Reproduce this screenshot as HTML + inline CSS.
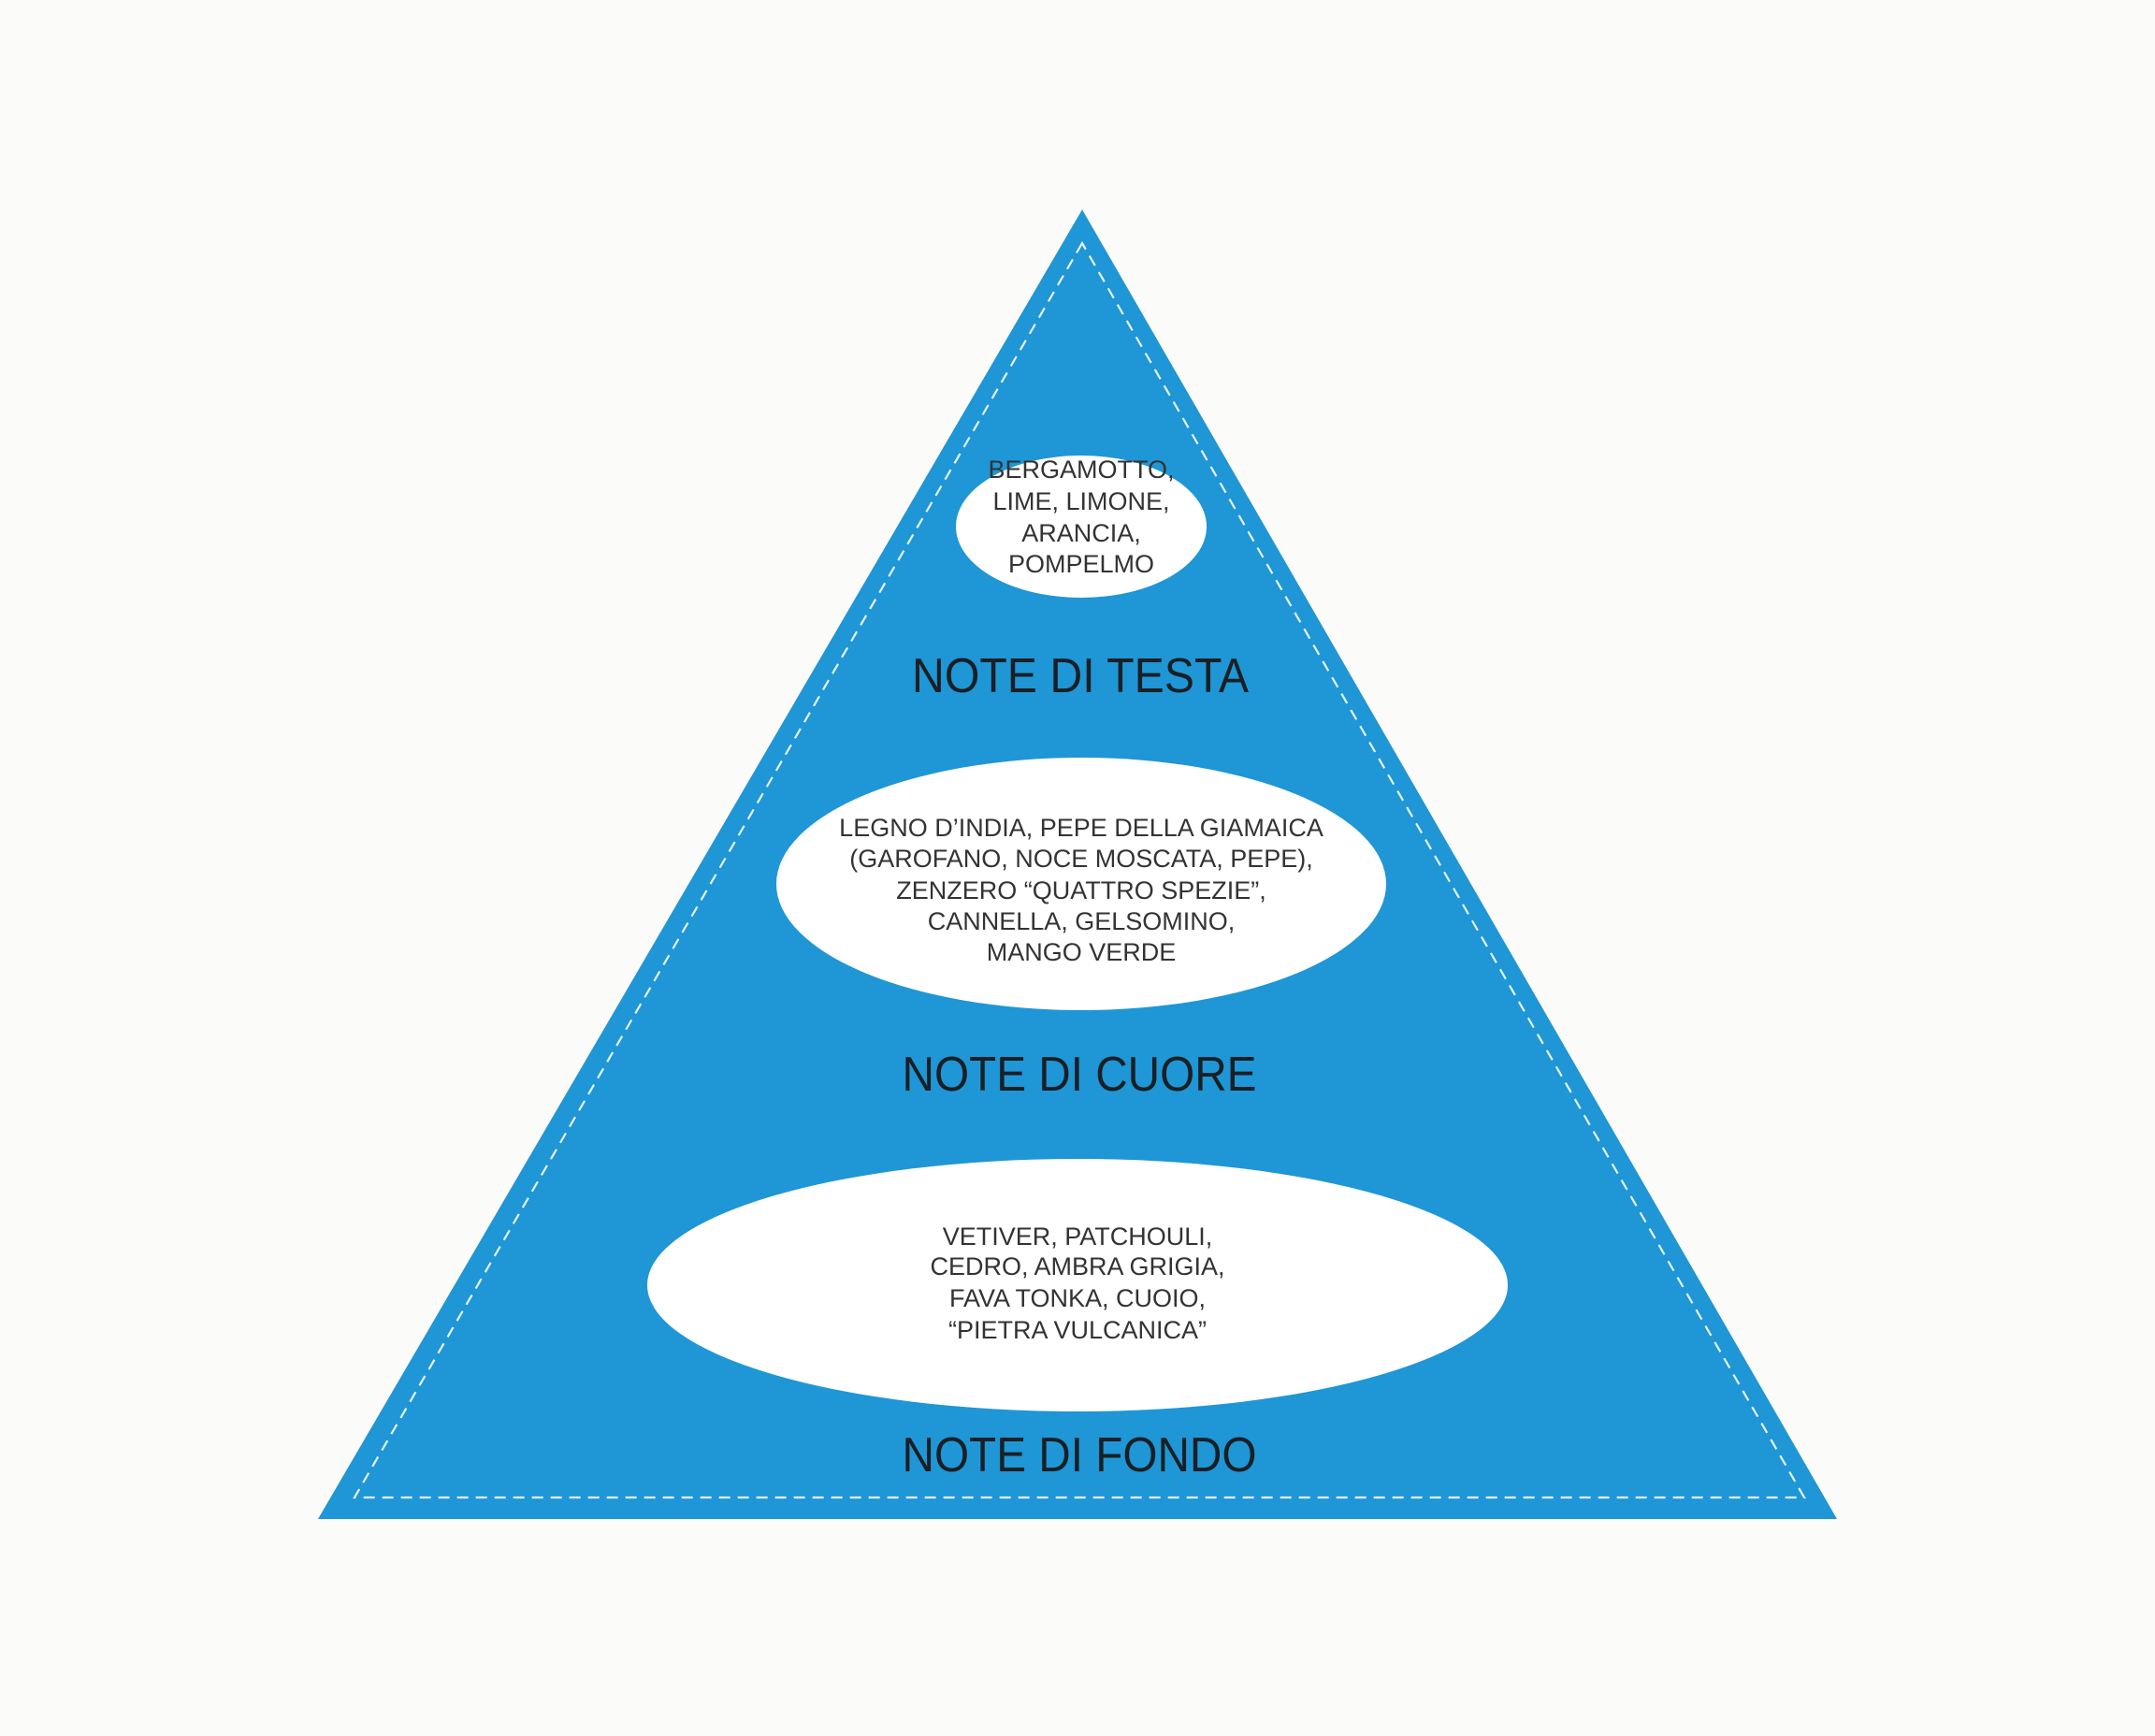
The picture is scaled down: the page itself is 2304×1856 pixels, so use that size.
<!DOCTYPE html>
<html><head><meta charset="utf-8"><style>
html,body{margin:0;padding:0;background:#fbfbf9;}
svg{display:block;}
</style></head><body>
<svg width="2304" height="1856" viewBox="0 0 2304 1856" xmlns="http://www.w3.org/2000/svg">
<rect width="2304" height="1856" fill="#fbfbf9"/>
<polygon points="1157,224 340,1624 1964,1624" fill="#1f96d5"/>
<polygon points="1157,260 379,1601 1929,1601" fill="none" stroke="#e6f3fb" stroke-width="2.2" stroke-dasharray="12,8"/>
<ellipse cx="1156" cy="563" rx="134" ry="76" fill="#fff"/>
<ellipse cx="1156" cy="945" rx="326" ry="135" fill="#fff"/>
<ellipse cx="1152" cy="1374" rx="460" ry="135" fill="#fff"/>
<g font-family="Liberation Sans, sans-serif" fill="#333" font-size="27" text-anchor="middle">
<g transform="translate(1156,0)">
<text x="0" y="511">BERGAMOTTO,</text>
<text x="0" y="545">LIME, LIMONE,</text>
<text x="0" y="579">ARANCIA,</text>
<text x="0" y="612">POMPELMO</text>
<text x="0" y="894">LEGNO D’INDIA, PEPE DELLA GIAMAICA</text>
<text x="0" y="927">(GAROFANO, NOCE MOSCATA, PEPE),</text>
<text x="0" y="961">ZENZERO “QUATTRO SPEZIE”,</text>
<text x="0" y="994">CANNELLA, GELSOMINO,</text>
<text x="0" y="1027">MANGO VERDE</text>
</g>
<g transform="translate(1152,0)">
<text x="0" y="1331">VETIVER, PATCHOULI,</text>
<text x="0" y="1363">CEDRO, AMBRA GRIGIA,</text>
<text x="0" y="1397">FAVA TONKA, CUOIO,</text>
<text x="0" y="1431">“PIETRA VULCANICA”</text>
</g>
</g>
<g font-family="Liberation Sans, sans-serif" fill="#1a1f24" font-size="52" text-anchor="middle">
<text x="1155" y="740" textLength="360" lengthAdjust="spacingAndGlyphs">NOTE DI TESTA</text>
<text x="1154" y="1166" textLength="379" lengthAdjust="spacingAndGlyphs">NOTE DI CUORE</text>
<text x="1154" y="1573" textLength="379" lengthAdjust="spacingAndGlyphs">NOTE DI FONDO</text>
</g>
</svg>
</body></html>
